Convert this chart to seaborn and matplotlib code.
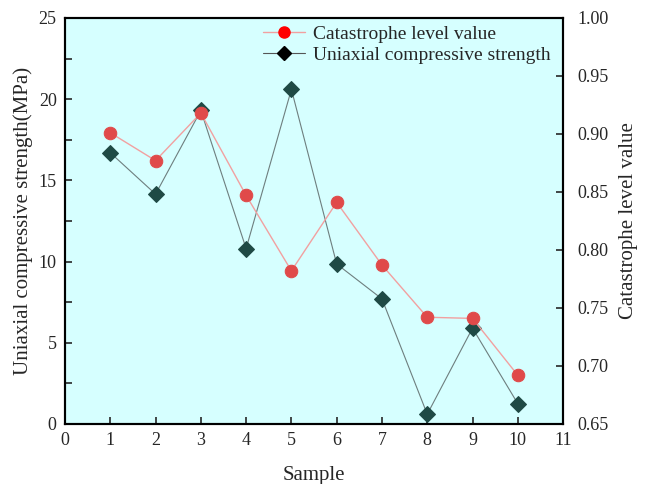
import matplotlib
matplotlib.use("Agg")
import matplotlib.pyplot as plt
from matplotlib.lines import Line2D
from matplotlib.ticker import MultipleLocator
import seaborn as sns
import pandas as pd

samples = [1, 2, 3, 4, 5, 6, 7, 8, 9, 10]
ucs = [16.7, 14.15, 19.3, 10.8, 20.6, 9.85, 7.7, 0.6, 5.9, 1.25]
catastrophe = [0.901, 0.877, 0.918, 0.847, 0.782, 0.841, 0.787, 0.742, 0.741, 0.692]

sns.set_style("ticks")
plt.rcParams['font.family'] = ['Liberation Serif', 'DejaVu Serif']
plt.rcParams['xtick.direction'] = 'in'
plt.rcParams['ytick.direction'] = 'in'

df = pd.DataFrame({"Sample": samples, "UCS": ucs, "CLV": catastrophe})

fig = plt.figure(figsize=(6.45, 4.84), dpi=100)
ax = fig.add_axes([0.1008, 0.124, 0.7722, 0.839])
ax.set_facecolor("#D6FFFF")
ax2 = ax.twinx()

sns.lineplot(data=df, x="Sample", y="UCS", ax=ax, color="#6E7E7E", linewidth=0.8,
             marker="D", markersize=8, markerfacecolor="#1F4A45", markeredgecolor="#1F4A45",
             zorder=2)
sns.lineplot(data=df, x="Sample", y="CLV", ax=ax2, color="#F2A0A0", linewidth=1.0,
             marker="o", markersize=9, markerfacecolor="#E04A4A", markeredgecolor="#E04A4A",
             zorder=3)

ax.set_xlim(0, 11)
ax.set_ylim(0, 25)
ax2.set_ylim(0.65, 1.00)
ax.xaxis.set_major_locator(MultipleLocator(1))
ax.yaxis.set_major_locator(MultipleLocator(5))
ax.yaxis.set_minor_locator(MultipleLocator(2.5))
ax2.yaxis.set_major_locator(MultipleLocator(0.05))
ax2.yaxis.set_major_formatter(matplotlib.ticker.FormatStrFormatter('%.2f'))

for a in (ax, ax2):
    for s in a.spines.values():
        s.set_linewidth(1.5)
        s.set_color("black")
ax.tick_params(axis='x', which='major', length=5, width=1.2, labelsize=13, pad=6)
ax.tick_params(axis='y', which='major', length=5, width=1.2, labelsize=13, pad=6)
ax.tick_params(axis='y', which='minor', length=5, width=1.2)
ax2.tick_params(axis='y', which='major', length=5, width=1.2, labelsize=13, pad=10)

ax.set_xlabel("Sample", fontsize=15, labelpad=12)
ax.set_ylabel("Uniaxial compressive strength(MPa)", fontsize=15, labelpad=4)
ax2.set_ylabel("Catastrophe level value", fontsize=15, labelpad=8)

handles = [
    Line2D([], [], color="#F2A0A0", linewidth=1.0, marker="o", markersize=8,
           markerfacecolor="#FF0000", markeredgecolor="#FF0000"),
    Line2D([], [], color="#555555", linewidth=0.8, marker="D", markersize=7,
           markerfacecolor="#000000", markeredgecolor="#000000"),
]
ax2.legend(handles, ["Catastrophe level value", "Uniaxial compressive strength"],
           loc="upper right", frameon=False, fontsize=14, handlelength=2.2,
           borderaxespad=0.1, labelspacing=0.15, handletextpad=0.4,
           bbox_to_anchor=(0.995, 1.005))
if ax.get_legend():
    ax.get_legend().remove()

fig.savefig("out.png", dpi=100)
